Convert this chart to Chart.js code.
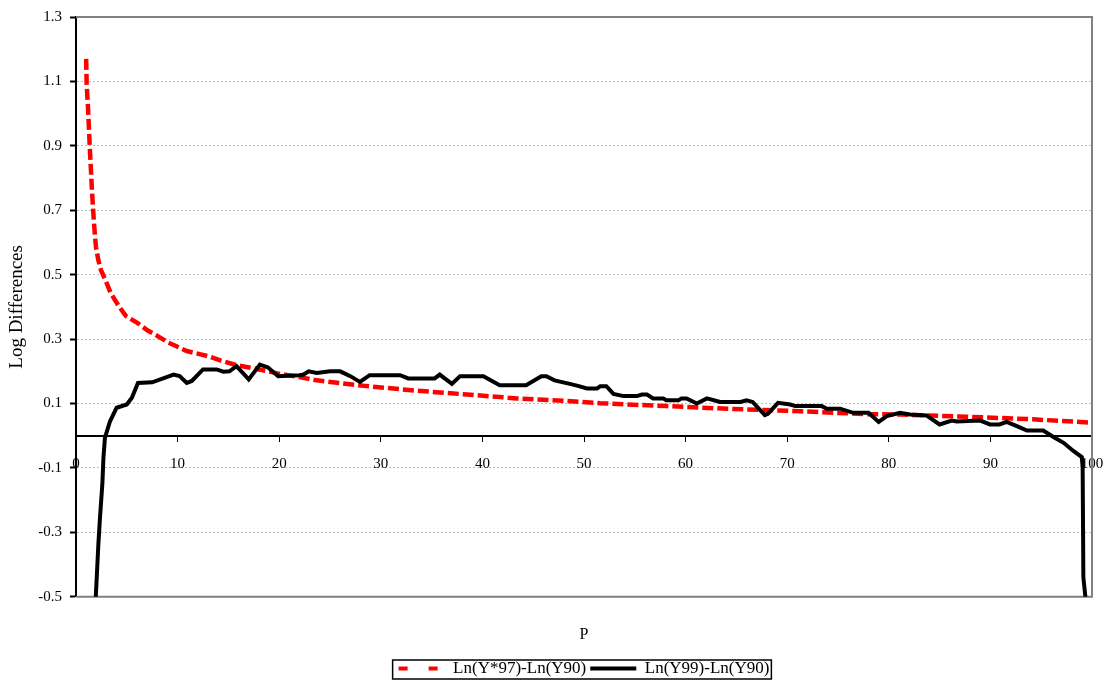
<!DOCTYPE html>
<html lang="en">
<head>
<meta charset="UTF-8">
<title>Log Differences</title>
<script src="https://cdn.jsdelivr.net/npm/chart.js@4.4.1/dist/chart.umd.min.js"></script>
<style>
  html, body { margin: 0; padding: 0; background: #fff; }
  #wrap { width: 1112px; height: 687px; }
</style>
</head>
<body>
<div id="wrap"><canvas id="chart"></canvas></div>
<script>
// values (P = percentile)
const redP = [1, 1.05, 1.18, 1.28, 1.38, 1.48, 1.57, 1.67, 1.77, 1.87, 1.97, 2.2, 2.46, 2.9, 3.4, 4.2, 4.9, 6, 7.1, 8,
  9.1, 10.9, 13, 14.2, 15.8, 17.5, 20.1, 22, 23.7, 28.3, 33.5, 38.5, 43.4, 48.3, 51.6, 58.1, 64.7, 71.3, 77.8, 81.1,
  87.7, 94.2, 99.7];
const redVals = [1.17, 1.09, 1.02, 0.95, 0.88, 0.82, 0.76, 0.71, 0.66, 0.62, 0.585, 0.545, 0.514, 0.483, 0.444, 0.403, 0.372, 0.351, 0.326, 0.31,
  0.289, 0.263, 0.247, 0.234, 0.219, 0.209, 0.192, 0.182, 0.172, 0.155, 0.14, 0.128, 0.116, 0.108, 0.101, 0.092, 0.083, 0.076, 0.067, 0.066,
  0.059, 0.051, 0.041];

const blackP = [1.9, 2.2, 2.36, 2.6, 2.7, 2.85, 3.35, 4.0, 5.0, 5.5, 6.1, 7.5, 9.6, 10.2, 10.9, 11.4, 12.5, 13.85, 14.5, 15.1,
  15.8, 17.0, 18.1, 18.9, 19.9, 22.0, 22.4, 22.9, 23.7, 25.0, 26.0, 27.0, 27.95, 28.9, 31.9, 32.7, 35.3, 35.8, 37.0, 37.8,
  40.1, 41.7, 44.3, 45.8, 46.3, 47.1, 48.6, 49.4, 50.3, 51.3, 51.6, 52.2, 52.9, 53.9, 55.2, 55.7, 56.2, 56.8, 57.8, 58.1,
  59.3, 59.6, 60.1, 61.1, 62.1, 63.4, 65.4, 66.0, 66.6, 67.8, 68.1, 69.1, 70.3, 70.8, 73.4, 73.9, 75.2, 76.5, 78.0, 79.0,
  79.8, 81.1, 82.1, 83.7, 85.0, 86.2, 86.7, 89.0, 89.96, 90.9, 91.6, 92.6, 93.6, 95.2, 96.2, 97.2, 98.2, 99.0, 99.08, 99.15,
  99.45];
const blackVals = [-0.53, -0.338, -0.255, -0.146, -0.069, -0.006, 0.045, 0.087, 0.097, 0.118, 0.164, 0.166, 0.19, 0.185, 0.164, 0.17, 0.206, 0.206, 0.199, 0.2,
  0.216, 0.175, 0.221, 0.212, 0.185, 0.188, 0.19, 0.2, 0.195, 0.2, 0.2, 0.185, 0.167, 0.188, 0.188, 0.178, 0.178, 0.19, 0.161, 0.185,
  0.185, 0.157, 0.157, 0.185, 0.185, 0.172, 0.161, 0.155, 0.147, 0.147, 0.154, 0.154, 0.13, 0.123, 0.123, 0.128, 0.128, 0.116, 0.116, 0.11,
  0.11, 0.116, 0.116, 0.1, 0.116, 0.105, 0.105, 0.11, 0.105, 0.064, 0.068, 0.102, 0.097, 0.092, 0.092, 0.084, 0.084, 0.071, 0.071, 0.043,
  0.061, 0.071, 0.066, 0.063, 0.035, 0.047, 0.044, 0.047, 0.035, 0.035, 0.043, 0.03, 0.016, 0.016, -0.004, -0.022, -0.048, -0.066, -0.1, -0.44,
  -0.53];

const xTicks = [0, 10, 20, 30, 40, 50, 60, 70, 80, 90, 100];
const yTicks = [-0.5, -0.3, -0.1, 0.1, 0.3, 0.5, 0.7, 0.9, 1.1, 1.3];
const seriesNames = ['Ln(Y*97)-Ln(Y90)', 'Ln(Y99)-Ln(Y90)'];

const serif = 'Liberation Serif';
Chart.defaults.font.family = serif;
Chart.defaults.color = '#000';

const toPoints = (xs, ys) => xs.map((x, i) => ({ x: x, y: ys[i] }));

// gray frame round the plot area and black box round the legend
const framePlugin = {
  id: 'frame',
  beforeDatasetsDraw(chart) {
    const { ctx, chartArea: a } = chart;
    ctx.save();
    ctx.strokeStyle = '#808080';
    ctx.lineWidth = 2;
    ctx.beginPath();
    ctx.moveTo(a.left, a.top);
    ctx.lineTo(a.right, a.top);
    ctx.lineTo(a.right, a.bottom);
    ctx.lineTo(a.left, a.bottom);
    ctx.stroke();
    ctx.restore();
  },
  afterDraw(chart) {
    const boxes = chart.legend.legendHitBoxes;
    if (!boxes || !boxes.length) return;
    const l = Math.min(...boxes.map(b => b.left)) - 6;
    const r = Math.max(...boxes.map(b => b.left + b.width)) + 2;
    const t = boxes[0].top;
    const b = boxes[0].top + boxes[0].height + 2;
    const ctx = chart.ctx;
    ctx.save();
    ctx.strokeStyle = '#000';
    ctx.lineWidth = 1.5;
    ctx.strokeRect(l, t, r - l, b - t);
    ctx.restore();
  }
};

new Chart(document.getElementById('chart'), {
  type: 'line',
  data: {
    datasets: [
      {
        label: seriesNames[0],
        data: toPoints(redP, redVals),
        borderColor: '#ff0000',
        backgroundColor: '#ff0000',
        borderWidth: 4.5,
        borderDash: [11, 4],
        pointRadius: 0,
        tension: 0,
        order: 1
      },
      {
        label: seriesNames[1],
        data: toPoints(blackP, blackVals),
        borderColor: '#000000',
        backgroundColor: '#000000',
        borderWidth: 4,
        pointRadius: 0,
        tension: 0,
        order: 0
      }
    ]
  },
  options: {
    responsive: true,
    maintainAspectRatio: false,
    animation: false,
    layout: { padding: { left: 0, right: 20, top: 16, bottom: 0 } },
    scales: {
      x: {
        type: 'linear',
        min: 0,
        max: 100,
        position: { y: 0 },
        afterBuildTicks: s => { s.ticks = xTicks.map(v => ({ value: v })); },
        afterFit: s => { s.paddingLeft = 0; s.paddingRight = 0; },
        ticks: { font: { size: 15 }, color: '#000', padding: 14, maxRotation: 0, autoSkip: false },
        grid: { drawOnChartArea: false, drawTicks: true, tickLength: 5, tickColor: '#000', color: '#000' },
        border: { color: '#000', width: 2 }
      },
      y: {
        min: -0.5,
        max: 1.3,
        afterBuildTicks: s => { s.ticks = yTicks.map(v => ({ value: v })); },
        afterFit: s => { s.width = 76; },
        ticks: { font: { size: 15 }, color: '#000', padding: 8, callback: v => v.toFixed(1) },
        grid: { color: '#bdbdbd', lineWidth: 1, tickLength: 6, tickColor: '#000', tickWidth: 2 },
        border: { color: '#000', width: 2, dash: [2, 2] },
        title: { display: true, text: 'Log Differences', font: { size: 19 }, color: '#000', padding: { top: 6, bottom: 0 } }
      }
    },
    plugins: {
      tooltip: { enabled: false },
      title: {
        display: true,
        text: 'P',
        position: 'bottom',
        fullSize: false,
        weight: 500,
        font: { size: 16, weight: 'normal' },
        color: '#000',
        padding: { top: 28, bottom: 12 }
      },
      legend: {
        position: 'bottom',
        fullSize: false,
        weight: 1000,
        labels: {
          usePointStyle: true,
          pointStyle: 'line',
          pointStyleWidth: 46,
          boxHeight: 17,
          padding: 4,
          font: { size: 17 },
          color: '#000',
          generateLabels(chart) {
            const items = Chart.defaults.plugins.legend.labels.generateLabels(chart);
            items.sort((a, b) => a.datasetIndex - b.datasetIndex);
            items.forEach(it => {
              it.pointStyle = 'line';
              it.lineWidth = 4;
              it.lineDash = it.datasetIndex === 0 ? [9, 21] : [];
            });
            return items;
          }
        }
      }
    }
  },
  plugins: [framePlugin]
});
</script>
</body>
</html>
